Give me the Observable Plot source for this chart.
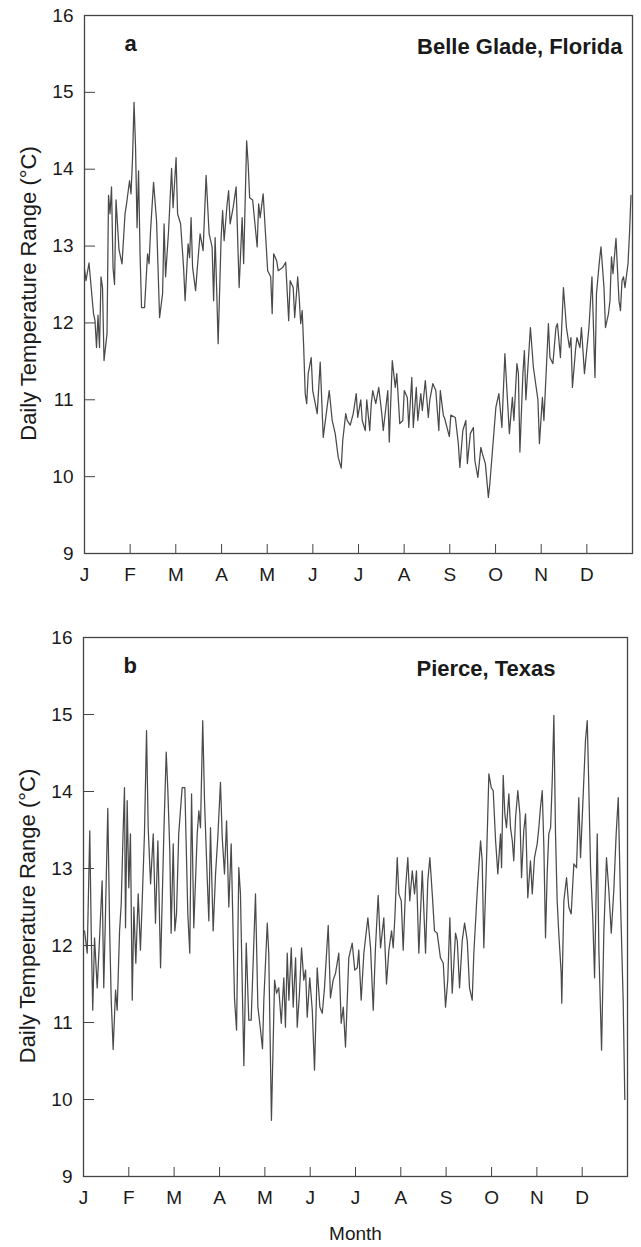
<!DOCTYPE html>
<html><head><meta charset="utf-8">
<script src="https://cdn.jsdelivr.net/npm/d3@7"></script>
<script src="https://cdn.jsdelivr.net/npm/@observablehq/plot@0.6"></script>
<style>
body{margin:0;background:#fff;}
#chart{width:641px;}
#chart svg{display:block;}
</style></head><body><div id="chart"></div>
<script>
const monthLabels = ["J","F","M","A","M","J","J","A","S","O","N","D"];
const monthStarts = [0, 30.4, 60.8, 91.3, 121.7, 152.1, 182.5, 212.9, 243.3, 273.8, 304.2, 334.6];
const yTicks = [9, 10, 11, 12, 13, 14, 15, 16];
const yLabel = "Daily Temperature Range (°C)";
const xLabel = "Month";

// Panel a: Belle Glade, Florida (day of year, daily temperature range °C)
const aDay = [0,1,3,6,7,8,9,10,11,12,13,15,16,17,18,19,20,21,23,25,27,28,30,31,32,33,34,35,36,37,38,40,42,43,44,46,48,50,52,53,54,56,58,59,61,62,64,66,67,69,70,71,72,74,75,77,79,81,83,85,86,87,88,89,91,92,93,95,96,97,99,101,103,105,106,108,109,110,112,115,116,117,119,122,124,125,126,128,129,132,134,136,137,139,140,142,143,144,145,146,147,148,149,151,152,155,157,159,163,165,167,169,171,172,174,175,177,179,181,182,184,185,187,188,190,191,192,194,196,198,199,202,203,205,207,208,210,212,213,215,216,218,219,221,222,224,225,227,229,230,232,234,236,237,239,240,243,244,247,249,250,252,254,255,257,259,260,262,264,265,267,269,270,274,276,278,280,282,283,285,286,288,289,290,292,293,294,297,299,302,303,305,306,309,310,312,314,315,317,319,321,323,324,325,327,328,330,331,333,336,338,340,341,343,344,346,347,349,350,351,352,354,356,357,358,359,360,362,363,364];
const aRange = [12.7,12.55,12.78,12.12,12.03,11.68,12.1,11.68,12.6,12.46,11.51,11.86,13.66,13.42,13.77,12.72,12.5,13.6,12.95,12.77,13.42,13.55,13.85,13.68,14.15,14.87,14.29,13.24,13.98,12.9,12.2,12.2,12.9,12.77,13.2,13.83,13.33,12.07,12.38,13.29,12.6,13.2,14.01,13.5,14.15,13.42,13.29,12.72,12.29,13.03,12.85,13.37,12.72,12.42,12.68,13.16,12.94,13.92,13.16,12.99,12.29,13.11,12.46,11.73,13.11,13.46,13.07,13.55,13.72,13.29,13.5,13.77,12.46,13.37,12.77,14.37,14.07,13.63,13.6,12.99,13.55,13.37,13.68,12.68,12.6,12.12,12.9,12.81,12.68,12.72,12.79,12.03,12.55,12.46,12.07,12.6,12.33,11.99,12.16,11.68,11.08,10.95,11.34,11.55,11.12,10.82,11.49,10.51,11.12,10.73,10.56,10.25,10.11,10.47,10.82,10.73,10.67,10.82,11.08,10.77,11.0,10.73,10.6,11.0,10.6,10.95,11.12,10.95,11.16,10.82,10.6,11.12,10.45,11.51,11.16,11.34,10.69,10.73,11.12,11.03,10.64,11.29,10.64,11.16,10.73,11.08,10.86,11.25,10.77,11.0,11.21,11.12,10.6,11.12,10.8,10.75,10.52,10.8,10.77,10.43,10.12,10.6,10.73,10.17,10.56,10.64,10.21,9.99,10.38,10.3,10.17,9.73,9.91,10.9,11.08,10.64,11.6,10.9,10.56,11.03,10.73,11.47,11.34,10.32,11.34,11.64,11.0,11.94,11.42,11.0,10.43,11.03,10.73,11.99,11.55,11.47,11.94,11.99,11.55,12.46,11.94,11.68,11.81,11.16,11.64,11.81,11.68,11.94,11.34,11.94,12.6,11.29,12.38,12.81,12.99,12.46,11.94,12.12,12.29,12.86,12.64,13.1,12.29,12.16,12.55,12.6,12.46,12.77,13.16,13.66];

// Panel b: Pierce, Texas
const bDay = [0.7,2.5,4.2,5.2,6.2,7.4,9.2,10.7,12.5,13.6,14.8,16.3,17.6,18.6,19.9,21.5,22.6,24.2,25.3,26.6,27.5,28.2,29.3,30.4,31.5,32.7,33.8,35.1,36.7,38.2,39.4,40.9,42.3,43.4,45.0,46.8,48.3,49.9,51.7,53.9,55.5,56.6,57.9,58.8,60.2,61.3,62.4,63.9,66.2,68.0,70.0,71.3,72.5,74.0,76.3,77.4,78.5,80.0,81.2,83.0,84.1,85.2,87.0,88.6,90.1,91.9,93.1,94.6,96.0,97.5,99.1,101.3,102.7,104.2,105.3,107.6,109.2,110.9,112.5,115.4,117.0,118.8,120.1,121.0,123.3,124.3,126.1,128.2,129.5,131.0,132.7,134.4,135.5,136.7,137.8,139.4,140.7,142.3,143.4,144.9,146.3,147.8,149.0,150.1,151.8,153.5,155.0,156.8,158.6,160.2,161.7,164.2,165.7,167.5,169.1,171.3,172.9,174.3,175.8,178.0,180.3,182.0,183.7,184.7,186.3,188.1,190.8,192.6,194.4,195.9,197.7,199.3,201.5,203.3,204.9,206.7,207.8,208.9,210.5,211.6,213.2,214.5,216.1,217.6,218.9,220.6,222.1,223.4,225.0,227.3,229.5,231.0,232.4,234.0,235.5,237.3,239.5,241.4,242.9,244.4,245.8,247.4,249.6,250.8,252.3,254.1,255.7,257.5,259.0,260.8,261.9,264.2,266.4,267.5,268.6,270.4,272.0,273.6,274.9,276.5,278.0,279.8,280.5,281.6,282.7,283.8,285.4,286.5,287.7,288.7,289.9,291.4,292.8,293.9,295.4,296.6,298.1,299.9,301.1,302.6,304.4,305.5,306.6,307.8,308.9,310.0,311.1,312.2,313.4,314.5,315.6,316.7,317.8,318.9,320.5,320.9,322.3,324.1,325.6,327.2,329.0,330.8,332.3,333.5,335.3,336.8,338.0,339.0,340.2,341.7,342.9,344.7,345.8,347.6,349.1,350.9,352.5,354.1,355.8,357.4,358.8,360.3,362.1,363.2];
const bRange = [12.19,11.9,13.49,12.16,11.16,12.1,11.45,12.06,12.84,11.45,12.45,13.78,12.16,11.29,10.65,11.42,11.16,12.19,12.54,13.49,14.05,12.23,13.88,12.75,13.45,11.29,12.5,11.77,12.67,11.94,12.58,13.45,14.79,13.53,12.8,13.45,12.29,13.36,11.71,13.45,14.51,14.01,13.23,12.16,13.32,12.19,12.41,13.45,14.05,14.05,12.41,11.9,13.97,12.23,13.45,13.75,13.53,14.92,13.88,12.88,12.32,13.53,12.19,12.93,13.4,14.12,13.4,12.93,13.62,12.5,13.32,11.32,10.9,13.01,12.67,10.44,12.03,11.03,11.03,12.67,11.2,10.9,10.66,11.29,12.29,11.9,9.73,11.55,11.38,11.45,10.99,11.58,10.94,11.9,11.29,11.97,11.2,11.84,10.94,11.38,11.97,11.55,11.68,11.07,11.58,11.16,10.38,11.71,11.2,11.12,11.45,12.26,11.32,11.55,11.64,11.9,10.99,11.2,10.68,11.84,12.03,11.68,11.71,11.94,11.29,11.9,12.36,11.97,11.16,11.97,12.65,11.97,12.36,11.5,11.94,12.19,11.97,12.36,13.14,12.67,12.58,11.94,12.75,13.14,12.58,12.97,12.67,12.97,11.9,12.97,11.9,12.84,13.14,12.67,12.19,12.16,11.84,11.77,11.2,11.55,12.36,11.38,12.16,12.06,11.45,12.06,12.29,12.06,11.45,11.29,11.9,12.71,13.36,13.1,11.97,13.1,14.23,14.05,14.01,13.36,12.93,13.45,13.01,14.21,13.71,13.53,13.97,13.53,13.36,13.1,13.66,14.01,13.71,12.88,13.49,13.71,12.62,13.1,12.67,13.14,13.32,13.53,13.79,14.01,13.27,12.1,12.93,13.45,13.53,14.14,14.99,13.45,12.58,12.16,11.64,11.25,12.58,12.88,12.5,12.41,13.06,13.01,13.92,13.14,13.97,14.66,14.92,14.1,13.01,12.36,11.58,13.45,11.94,10.64,12.16,13.14,12.71,12.16,12.71,13.45,13.92,12.58,11.29,10.0];

const FONT = "'Liberation Sans', Arial, Helvetica, sans-serif";

function panel(days, vals, o) {
  const data = days.map((d, i) => ({day: d, range: vals[i]}));
  const marks = [
    Plot.line(data, {x: "day", y: "range", stroke: "#4a4a4a", strokeWidth: 1.25}),
    Plot.frame({stroke: "#444", strokeWidth: 1.3}),
    Plot.axisY(yTicks, {tickSize: -11, tickPadding: 22, label: null, fontSize: 19, tickFormat: d => String(d), stroke: "#444"}),
    Plot.axisX(monthStarts, {tickSize: -9, tickPadding: 23, label: null, fontSize: 19, tickFormat: d => monthLabels[monthStarts.indexOf(d)], stroke: "#444"}),
    Plot.text([yLabel], {text: d => d, frameAnchor: "left", textAnchor: "middle", lineAnchor: "middle", rotate: -90, dx: -56, dy: 9, fontSize: 22}),
    Plot.text([o.letter], {text: d => d, frameAnchor: "top-left", textAnchor: "start", lineAnchor: "middle", dx: 40, dy: 28, fontSize: 22, fontWeight: "bold"}),
    Plot.text([o.station], {text: d => d, frameAnchor: "top-right", textAnchor: "end", lineAnchor: "middle", dx: o.stationDx, dy: 31, fontSize: 22, fontWeight: "bold"})
  ];
  if (o.xTitle) marks.push(Plot.text([o.xTitle], {text: d => d, frameAnchor: "bottom", lineAnchor: "middle", dy: 57, fontSize: 19}));
  return Plot.plot({
    width: 641,
    height: o.height,
    marginTop: o.marginTop,
    marginBottom: o.marginBottom,
    marginLeft: o.marginLeft,
    marginRight: o.marginRight,
    style: {fontFamily: FONT, color: "#1a1a1a", background: "#fff", overflow: "visible"},
    x: {domain: [0, 365], axis: null},
    y: {domain: [9, 16], axis: null},
    marks
  });
}

const chart = document.getElementById("chart");
chart.appendChild(panel(aDay, aRange, {height: 622, marginTop: 15, marginBottom: 69, marginLeft: 84, marginRight: 9, letter: "a", station: "Belle Glade, Florida", stationDx: -10}));
chart.appendChild(panel(bDay, bRange, {height: 625, marginTop: 15, marginBottom: 71, marginLeft: 83, marginRight: 14, letter: "b", station: "Pierce, Texas", stationDx: -72, xTitle: xLabel}));
</script>
</body></html>
